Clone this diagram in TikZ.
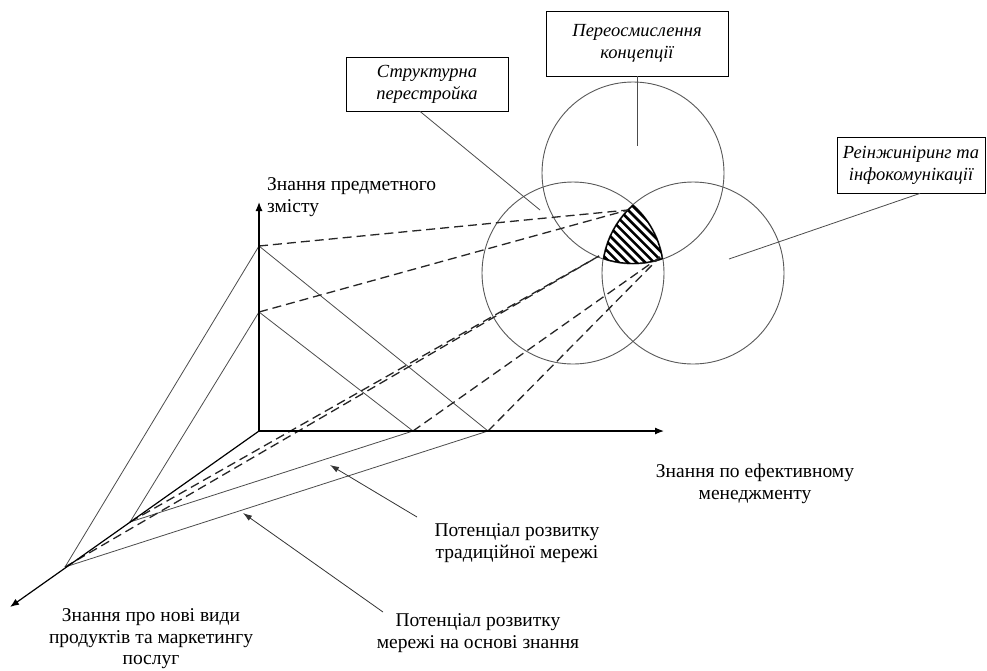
\documentclass[tikz,border=0pt]{standalone}
\usepackage{fontspec}
\setmainfont{Liberation Serif}
\usetikzlibrary{arrows.meta,calc}
\begin{document}
\begin{tikzpicture}[x=1pt,y=-1pt,
  thinline/.style={draw=black!70, line width=0.8pt},
  axis/.style={draw=black, line width=1.2pt, -{Latex[length=9pt,width=7pt]}},
  dashline/.style={draw=black!85, line width=1.3pt, dash pattern=on 9pt off 5pt},
  ring/.style={draw=black!65, line width=0.9pt},
  pointer/.style={draw=black!80, line width=0.8pt, -{Latex[length=9pt,width=6pt]}},
  boxlabel/.style={draw=black, line width=0.8pt, font=\fontsize{18.5}{22}\selectfont\itshape, align=center, inner sep=0pt},
  axislabel/.style={font=\fontsize{19.5}{21.5}\selectfont, inner sep=0pt},
]
\useasboundingbox (0,0) rectangle (987,670);
\fill[white] (0,0) rectangle (987,670);

% circles
\draw[ring] (633,173) circle[radius=91pt];
\draw[ring] (573,273) circle[radius=91pt];
\draw[ring] (693,273) circle[radius=91pt];

% hatched triple intersection
\begin{scope}
  \clip (633,173) circle[radius=91pt];
  \clip (573,273) circle[radius=91pt];
  \clip (693,273) circle[radius=91pt];
  \foreach \c in {330,338.8,...,445} \draw[line width=2.6pt] (\c+180,180) -- (\c+290,290);
  \draw[line width=2.4pt] (633,173) circle[radius=91pt] (573,273) circle[radius=91pt] (693,273) circle[radius=91pt];
\end{scope}

% axis points
\coordinate (O) at (259,431);
\coordinate (ytip) at (259,202);
\coordinate (xtip) at (664,431);
\coordinate (ztip) at (10,607);
\coordinate (V1) at (259,246);
\coordinate (V2) at (259,312);
\coordinate (H1) at (413,431);
\coordinate (H2) at (488,431);
\coordinate (A1) at (130,522);
\coordinate (P3) at (65,567);
\coordinate (T) at (628,210);
\coordinate (L) at (599,256);
\coordinate (R) at (660,257);

% solid thin lines
\draw[thinline] (V1) -- (H2);
\draw[thinline] (V2) -- (H1);
\draw[thinline] (P3) -- (V1);
\draw[thinline] (A1) -- (V2);
\draw[thinline] (A1) -- (H1);
\draw[thinline] (P3) -- (H2);

% dashed lines
\draw[dashline] (V1) -- (T);
\draw[dashline] (V2) -- (T);
\draw[dashline] (P3) -- (L);
\draw[dashline] (A1) -- (L);
\draw[dashline] (H1) -- (R);
\draw[dashline] (H2) -- (R);

% axes
\draw[axis] (O) -- (ytip);
\draw[axis] (O) -- (xtip);
\draw[axis] (O) -- (ztip);

% boxes
\node[boxlabel, minimum width=162pt, minimum height=54pt] (box1) at (427,84) {Структурна\\перестройка};
\node[boxlabel, minimum width=182pt, minimum height=65pt] (box2) at (637,43.5) {Переосмислення\\концепції};
\node[boxlabel, minimum width=148pt, minimum height=56pt] (box3) at (911,165) {Реінжиніринг та\\інфокомунікації};

\coordinate (b1end) at (540,210);
\coordinate (b2end) at (637,146);
\coordinate (b3end) at (729,259);
\draw[thinline] ($(box1.south)+(-7,0)$) -- (b1end);
\draw[thinline] (box2.south) -- (b2end);
\draw[thinline] ($(box3.south)+(9,0)$) -- (b3end);

% axis labels
\node[axislabel, align=left, anchor=west] (ylab) at (267,197) {Знання предметного\\змісту};
\node[axislabel, align=center] (xlab) at (755,484) {Знання по ефективному\\менеджменту};
\node[axislabel, align=center, anchor=south] (zlab) at (151,669) {Знання про нові види\\продуктів та маркетингу\\послуг};
\node[axislabel, align=center] (pot1) at (517,543) {Потенціал розвитку\\традиційної мережі};
\node[axislabel, align=center] (pot2) at (478,633) {Потенціал розвитку\\мережі на основі знання};

% pointers
\coordinate (p1s) at (417,517);
\coordinate (p1e) at (330,465);
\coordinate (p2s) at (383,612);
\coordinate (p2e) at (243,513);
\draw[pointer] (p1s) -- (p1e);
\draw[pointer] (p2s) -- (p2e);
\end{tikzpicture}
\end{document}
